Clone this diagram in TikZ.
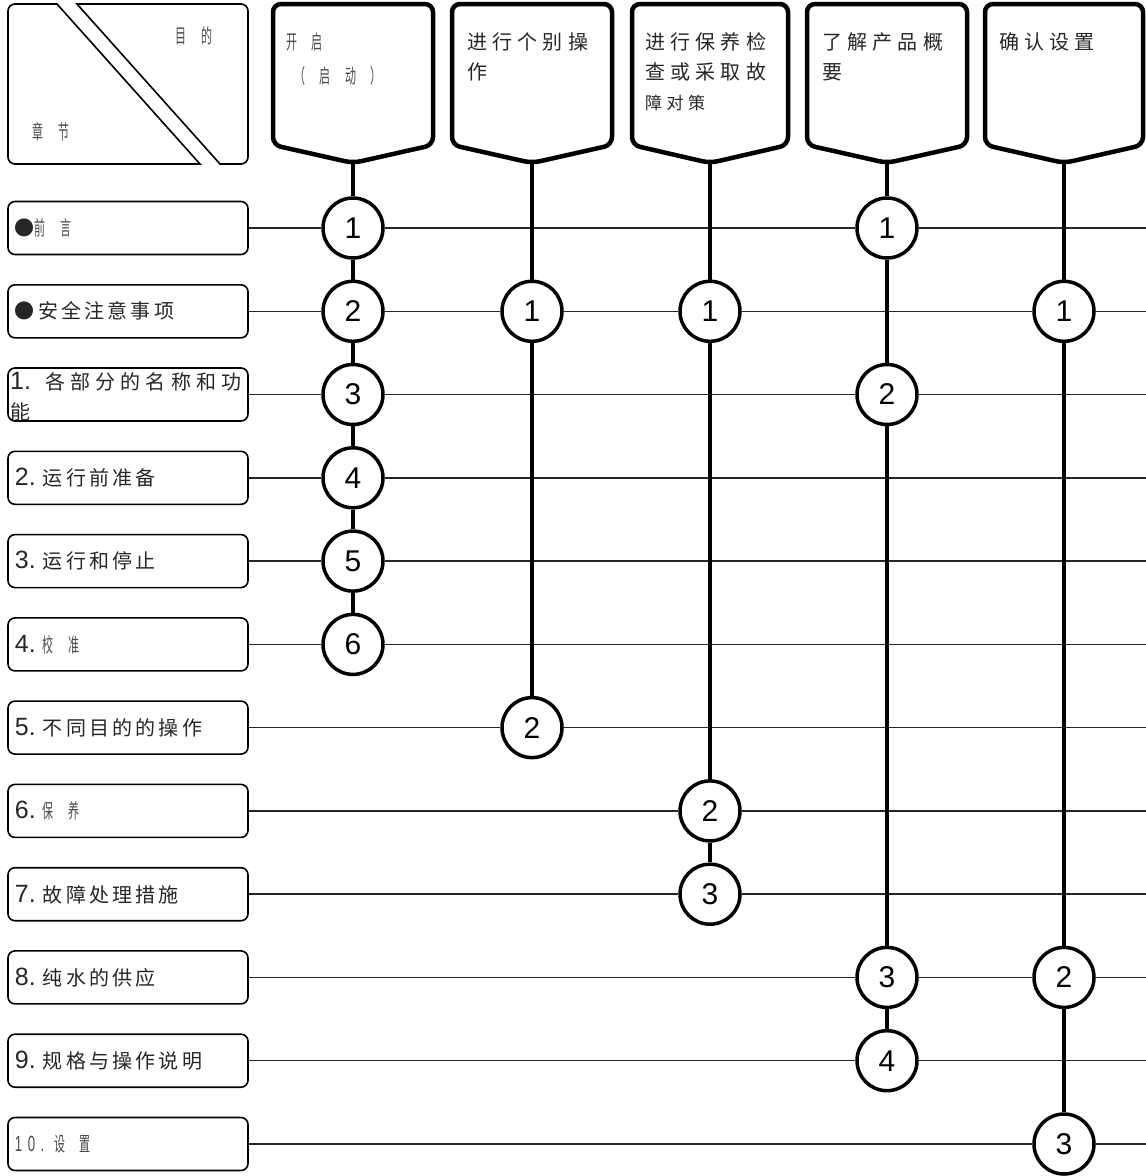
\documentclass[tikz,border=0pt]{standalone}
\usepackage{fontspec}
\setmainfont{Liberation Sans}
\newfontfamily\cjk[LetterSpace=16]{Noto Sans CJK SC}
\newfontfamily\cjkwide[LetterSpace=26]{Noto Sans CJK SC}
\newfontfamily\cjkn[FakeStretch=0.55,LetterSpace=72]{Noto Sans CJK SC}
\newfontfamily\latn[FakeStretch=0.6,LetterSpace=25]{Liberation Sans}
\usetikzlibrary{positioning}
\newcommand\nr[2][7pt]{{\rmfamily\fontsize{25}{30}\selectfont #2}\hspace{#1}}
\newcommand\slim[1]{{\cjkn\color{black!70}#1}}

\begin{document}
\begin{tikzpicture}[x=1pt, y=-1pt,
  every node/.style={font=\cjk\fontsize{20}{30}\selectfont, text=black!85},
  chap/.style={draw=black, line width=1.6pt, rounded corners=7pt,
    minimum width=240pt, minimum height=53pt, text width=226pt,
    inner xsep=7pt, align=left},
  goal/.style={line width=4.5pt, rounded corners=8pt},
  goaltxt/.style={anchor=north west, inner sep=0pt, align=left,
    font=\cjkwide\fontsize{20}{30}\selectfont},
  num/.style={circle, draw, line width=3.5pt, fill=white, minimum size=60pt,
    inner sep=0pt, text=black, font=\fontsize{30}{30}\selectfont},
  stem/.style={line width=4pt},
  link/.style={line width=1.5pt, black!85}]
\useasboundingbox (0,0) rectangle (1146,1176);

% corner box
\draw[line width=1.6pt] (57,4) [rounded corners=7pt] -- (8,4) -- (8,164) [sharp corners] -- (200,164) -- cycle;
\draw[line width=1.6pt] (77,4) [rounded corners=7pt] -- (248,4) -- (248,164) [sharp corners] -- (220,164) -- cycle;
\node (purpose) at (194,36) {\slim{目的}};
\node (chapter) at (51,132) {\slim{章节}};

% goals
\draw[goal] (353,163) -- (273,145) -- (273,4) -- (433,4) -- (433,145) -- cycle;
\draw[goal] (532,163) -- (452,145) -- (452,4) -- (612,4) -- (612,145) -- cycle;
\draw[goal] (710,163) -- (632,145) -- (632,4) -- (788,4) -- (788,145) -- cycle;
\draw[goal] (887,163) -- (807,145) -- (807,4) -- (967,4) -- (967,145) -- cycle;
\draw[goal] (1064,163) -- (985,145) -- (985,4) -- (1143,4) -- (1143,145) -- cycle;
\coordinate (ha) at (353,163);
\coordinate (hb) at (532,163);
\coordinate (hc) at (710,163);
\coordinate (hd) at (887,163);
\coordinate (he) at (1064,163);
\node[goaltxt] (ga) at (286,32) {\slim{开启}\\[4pt]\hspace{8pt}\slim{（启动）}};
\node[goaltxt] (gb) at (467,32) {进行个别操\\作};
\node[goaltxt] (gc) at (645,32) {进行保养检\\查或采取故\\{\fontsize{17}{30}\selectfont 障对策}};
\node[goaltxt] (gd) at (822,32) {了解产品概\\要};
\node[goaltxt] (ge) at (999,32) {确认设置};

% chapters
\node[chap] (r0) at (128,228) {●\slim{前言}};
\node[chap] (r1) at (128,311.3) {●安全注意事项};
\node[chap] (r2) at (128,394.5) {};
\node[anchor=north west, inner sep=0pt, align=left, font=\cjkwide\fontsize{20}{30}\selectfont] (t2) at (10,372) {\nr[14pt]{1.}各部分的名称和功\\能};
\node[chap] (r3) at (128,477.8) {\nr{2.}运行前准备};
\node[chap] (r4) at (128,561.1) {\nr{3.}运行和停止};
\node[chap] (r5) at (128,644.4) {\nr{4.}\slim{校准}};
\node[chap] (r6) at (128,727.6) {\nr{5.}不同目的的操作};
\node[chap] (r7) at (128,810.9) {\nr{6.}\slim{保养}};
\node[chap] (r8) at (128,894.2) {\nr{7.}故障处理措施};
\node[chap] (r9) at (128,977.4) {\nr{8.}纯水的供应};
\node[chap] (r10) at (128,1060.7) {\nr{9.}规格与操作说明};
\node[chap] (r11) at (128,1144) {{\latn\fontsize{22}{30}\selectfont\color{black!70}10.}\hspace{10pt}\slim{设置}};

% right ends
\coordinate (z0) at (1146,228);
\coordinate (z1) at (1146,311.3);
\coordinate (z2) at (1146,394.5);
\coordinate (z3) at (1146,477.8);
\coordinate (z4) at (1146,561.1);
\coordinate (z5) at (1146,644.4);
\coordinate (z6) at (1146,727.6);
\coordinate (z7) at (1146,810.9);
\coordinate (z8) at (1146,894.2);
\coordinate (z9) at (1146,977.4);
\coordinate (z10) at (1146,1060.7);
\coordinate (z11) at (1146,1144);

% steps
\node[num] (a1) at (353,228) {1};
\node[num] (a2) at (353,311.3) {2};
\node[num] (a3) at (353,394.5) {3};
\node[num] (a4) at (353,477.8) {4};
\node[num] (a5) at (353,561.1) {5};
\node[num] (a6) at (353,644.4) {6};
\node[num] (b1) at (532,311.3) {1};
\node[num] (b2) at (532,727.6) {2};
\node[num] (c1) at (710,311.3) {1};
\node[num] (c2) at (710,810.9) {2};
\node[num] (c3) at (710,894.2) {3};
\node[num] (d1) at (887,228) {1};
\node[num] (d2) at (887,394.5) {2};
\node[num] (d3) at (887,977.4) {3};
\node[num] (d4) at (887,1060.7) {4};
\node[num] (e1) at (1064,311.3) {1};
\node[num] (e2) at (1064,977.4) {2};
\node[num] (e3) at (1064,1144) {3};

\draw[link] (r0) -- (a1) -- (d1) -- (z0);
\draw[link] (r1) -- (a2) -- (b1) -- (c1) -- (e1) -- (z1);
\draw[link] (r2) -- (a3) -- (d2) -- (z2);
\draw[link] (r3) -- (a4) -- (z3);
\draw[link] (r4) -- (a5) -- (z4);
\draw[link] (r5) -- (a6) -- (z5);
\draw[link] (r6) -- (b2) -- (z6);
\draw[link] (r7) -- (c2) -- (z7);
\draw[link] (r8) -- (c3) -- (z8);
\draw[link] (r9) -- (d3) -- (e2) -- (z9);
\draw[link] (r10) -- (d4) -- (z10);
\draw[link] (r11) -- (e3) -- (z11);

\draw[stem] (ha) -- (a1) -- (a2) -- (a3) -- (a4) -- (a5) -- (a6);
\draw[stem] (hb) -- (b1) -- (b2);
\draw[stem] (hc) -- (c1) -- (c2) -- (c3);
\draw[stem] (hd) -- (d1) -- (d2) -- (d3) -- (d4);
\draw[stem] (he) -- (e1) -- (e2) -- (e3);
\end{tikzpicture}
\end{document}
